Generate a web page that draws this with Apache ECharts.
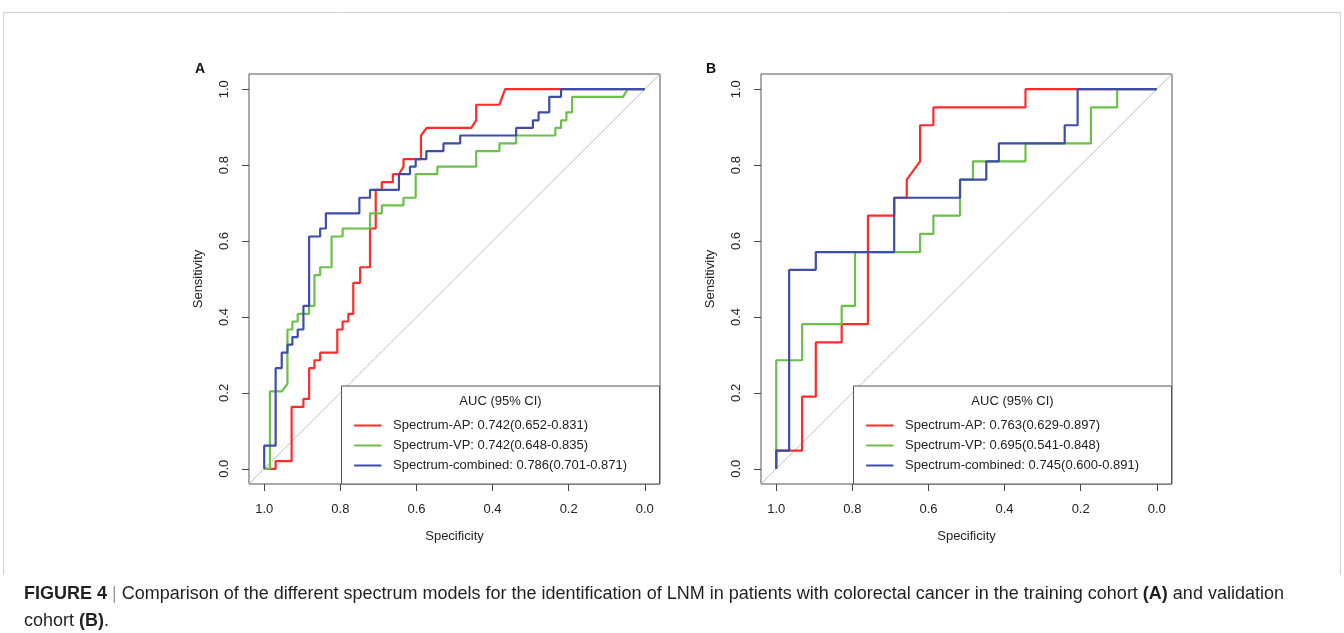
<!DOCTYPE html>
<html>
<head>
<meta charset="utf-8">
<script src="https://cdn.jsdelivr.net/npm/echarts@6/dist/echarts.min.js"></script>
<style>
  html, body { margin: 0; background: #fff; }
  #main { width: 1344px; height: 633px; }
</style>
</head>
<body>
<div id="main"></div>
<script>
// ---- data (specificity, sensitivity) ----
const modelNames = ['Spectrum-AP', 'Spectrum-VP', 'Spectrum-combined'];
const aucTrain = ['0.742(0.652-0.831)', '0.742(0.648-0.835)', '0.786(0.701-0.871)'];
const aucValid = ['0.763(0.629-0.897)', '0.695(0.541-0.848)', '0.745(0.600-0.891)'];
const tickValues = [1.0, 0.8, 0.6, 0.4, 0.2, 0.0];

// training cohort (A)
const trainAP = [[1,0],[0.970,0],[0.970,0.020],[0.928,0.020],[0.928,0.163],[0.897,0.163],[0.897,0.184],
  [0.882,0.184],[0.882,0.265],[0.868,0.265],[0.868,0.286],[0.853,0.286],[0.853,0.306],[0.808,0.306],
  [0.808,0.367],[0.794,0.367],[0.794,0.388],[0.779,0.388],[0.779,0.408],[0.766,0.408],[0.766,0.490],
  [0.748,0.490],[0.748,0.531],[0.722,0.531],[0.722,0.633],[0.707,0.633],[0.707,0.735],[0.691,0.735],
  [0.691,0.755],[0.662,0.755],[0.662,0.776],[0.646,0.776],[0.634,0.796],[0.634,0.816],[0.588,0.816],
  [0.588,0.878],[0.573,0.898],[0.456,0.898],[0.443,0.918],[0.443,0.959],[0.382,0.959],[0.367,1],[0,1]];
const trainVP = [[1,0],[0.985,0],[0.985,0.204],[0.954,0.204],[0.939,0.224],[0.939,0.367],[0.926,0.367],
  [0.926,0.388],[0.912,0.388],[0.912,0.408],[0.882,0.408],[0.882,0.429],[0.868,0.429],[0.868,0.510],
  [0.853,0.510],[0.853,0.531],[0.823,0.531],[0.823,0.612],[0.794,0.612],[0.794,0.633],[0.722,0.633],
  [0.722,0.673],[0.691,0.673],[0.691,0.694],[0.634,0.694],[0.634,0.714],[0.602,0.714],[0.602,0.776],
  [0.545,0.776],[0.545,0.796],[0.443,0.796],[0.443,0.837],[0.382,0.837],[0.382,0.857],[0.338,0.857],
  [0.338,0.878],[0.235,0.878],[0.235,0.898],[0.220,0.898],[0.220,0.918],[0.206,0.918],[0.206,0.939],
  [0.191,0.939],[0.191,0.980],[0.057,0.980],[0.045,1],[0,1]];
const trainComb = [[1,0],[1,0.061],[0.970,0.061],[0.970,0.265],[0.954,0.265],[0.954,0.306],[0.939,0.306],
  [0.939,0.327],[0.926,0.327],[0.926,0.347],[0.912,0.347],[0.912,0.367],[0.897,0.367],[0.897,0.429],
  [0.882,0.429],[0.882,0.612],[0.853,0.612],[0.853,0.633],[0.838,0.633],[0.838,0.673],[0.750,0.673],
  [0.750,0.714],[0.722,0.714],[0.722,0.735],[0.646,0.735],[0.646,0.776],[0.617,0.776],[0.617,0.796],
  [0.602,0.796],[0.602,0.816],[0.574,0.816],[0.574,0.837],[0.529,0.837],[0.529,0.857],[0.485,0.857],
  [0.485,0.878],[0.338,0.878],[0.338,0.898],[0.294,0.898],[0.294,0.918],[0.279,0.918],[0.279,0.939],
  [0.251,0.939],[0.251,0.980],[0.220,0.980],[0.220,1],[0,1]];

// validation cohort (B)
const validAP = [[1,0],[1,0.048],[0.932,0.048],[0.932,0.190],[0.896,0.190],[0.896,0.333],[0.828,0.333],
  [0.828,0.381],[0.759,0.381],[0.759,0.667],[0.690,0.667],[0.690,0.714],[0.657,0.714],[0.657,0.762],
  [0.622,0.810],[0.622,0.905],[0.587,0.905],[0.587,0.952],[0.345,0.952],[0.345,1],[0,1]];
const validVP = [[1,0],[1,0.286],[0.932,0.286],[0.932,0.381],[0.828,0.381],[0.828,0.429],[0.793,0.429],
  [0.793,0.571],[0.622,0.571],[0.622,0.619],[0.587,0.619],[0.587,0.667],[0.517,0.667],[0.517,0.762],
  [0.483,0.762],[0.483,0.810],[0.345,0.810],[0.345,0.857],[0.173,0.857],[0.173,0.952],[0.104,0.952],
  [0.104,1],[0,1]];
const validComb = [[1,0],[1,0.048],[0.966,0.048],[0.966,0.524],[0.896,0.524],[0.896,0.571],[0.690,0.571],
  [0.690,0.714],[0.517,0.714],[0.517,0.762],[0.448,0.762],[0.448,0.810],[0.415,0.810],[0.415,0.857],
  [0.242,0.857],[0.242,0.905],[0.208,0.905],[0.208,1],[0,1]];

const colors = ['#FF2B2B', '#6CC04A', '#3D4DA8'];
const font = 'Liberation Sans, Arial, Helvetica, sans-serif';
const chart = echarts.init(document.getElementById('main'));

const gridLefts = [249, 761];

function xAxisFor(i) {
  return {
    gridIndex: i, type: 'value', min: -0.04, max: 1.04, inverse: true,
    splitLine: { show: false }, axisLine: { show: false, onZero: false },
    axisTick: { customValues: tickValues, length: 7, lineStyle: { color: '#444' } },
    axisLabel: { customValues: tickValues, formatter: v => v.toFixed(1), margin: 19,
      fontSize: 13, color: '#222', fontFamily: font },
    name: 'Specificity', nameLocation: 'middle', nameGap: 46,
    nameTextStyle: { fontSize: 13, color: '#222', fontFamily: font }
  };
}
function yAxisFor(i) {
  return {
    gridIndex: i, type: 'value', min: -0.04, max: 1.04,
    splitLine: { show: false }, axisLine: { show: false, onZero: false },
    axisTick: { customValues: tickValues, length: 7, lineStyle: { color: '#444' } },
    axisLabel: { customValues: tickValues, formatter: v => v.toFixed(1), margin: 18, rotate: 90,
      fontSize: 13, color: '#222', fontFamily: font },
    name: 'Sensitivity', nameLocation: 'middle', nameGap: 44,
    nameTextStyle: { fontSize: 13, color: '#222', fontFamily: font }
  };
}

function rocSeries(data, idx, gi) {
  return { type: 'line', xAxisIndex: gi, yAxisIndex: gi, data: data, showSymbol: false,
    lineStyle: { color: colors[idx], width: 2.2 }, z: 3 + idx, silent: true };
}
function diagSeries(gi) {
  return { type: 'line', xAxisIndex: gi, yAxisIndex: gi, data: [[1.04, -0.04], [-0.04, 1.04]],
    showSymbol: false, lineStyle: { color: '#bebebe', width: 1 }, z: 2, silent: true };
}

function legendBox(gridLeft, aucs) {
  const x0 = gridLeft + 92.5, y0 = 386;
  const els = [{
    type: 'rect', z: 100, shape: { x: x0, y: y0, width: 318, height: 98 },
    style: { fill: '#fff', stroke: '#555', lineWidth: 1 }
  }, {
    type: 'text', z: 101, x: x0 + 159, y: 401.5,
    style: { text: 'AUC (95% CI)', fontSize: 13, fontFamily: font, fill: '#222', align: 'center', verticalAlign: 'middle' }
  }];
  modelNames.forEach((n, k) => {
    const yy = 425.5 + k * 20;
    els.push({ type: 'line', z: 101, shape: { x1: x0 + 12.6, y1: yy, x2: x0 + 40, y2: yy },
      style: { stroke: colors[k], lineWidth: 2 } });
    els.push({ type: 'text', z: 101, x: x0 + 51.5, y: yy,
      style: { text: n + ': ' + aucs[k], fontSize: 13, fontFamily: font, fill: '#222', verticalAlign: 'middle' } });
  });
  return els;
}

const captionRich = {
  b: { fontWeight: 'bold', fontSize: 18, fontFamily: font, fill: '#231f20' },
  n: { fontSize: 18, fontFamily: font, fill: '#231f20' },
  s: { fontSize: 18, fontFamily: font, fill: '#999' }
};

const option = {
  animation: false,
  backgroundColor: '#fff',
  grid: gridLefts.map(l => ({ left: l, top: 74, width: 411, height: 410, show: true,
    borderColor: '#555', borderWidth: 1, backgroundColor: 'transparent' })),
  xAxis: [xAxisFor(0), xAxisFor(1)],
  yAxis: [yAxisFor(0), yAxisFor(1)],
  series: [
    diagSeries(0), rocSeries(trainAP, 0, 0), rocSeries(trainVP, 1, 0), rocSeries(trainComb, 2, 0),
    diagSeries(1), rocSeries(validAP, 0, 1), rocSeries(validVP, 1, 1), rocSeries(validComb, 2, 1)
  ],
  graphic: [
    { type: 'polyline', z: 1, shape: { points: [[3.5, 575], [3.5, 12.5], [1340.5, 12.5], [1340.5, 575]] },
      style: { stroke: '#d0d0d0', fill: null, lineWidth: 1 } },
    { type: 'text', x: 200, y: 69, style: { text: 'A', fontSize: 14, fontWeight: 'bold', fontFamily: font,
      fill: '#111', align: 'center', verticalAlign: 'middle' } },
    { type: 'text', x: 711, y: 69, style: { text: 'B', fontSize: 14, fontWeight: 'bold', fontFamily: font,
      fill: '#111', align: 'center', verticalAlign: 'middle' } },
    ...legendBox(gridLefts[0], aucTrain),
    ...legendBox(gridLefts[1], aucValid),
    { type: 'text', x: 24, y: 594, style: { verticalAlign: 'middle', rich: captionRich,
      text: '{b|FIGURE 4}{s| | }{n|Comparison of the different spectrum models for the identification of LNM in patients with colorectal cancer in the training cohort }{b|(A)}{n| and validation}' } },
    { type: 'text', x: 24, y: 621, style: { verticalAlign: 'middle', rich: captionRich,
      text: '{n|cohort }{b|(B)}{n|.}' } }
  ]
};
chart.setOption(option);
</script>
</body>
</html>
